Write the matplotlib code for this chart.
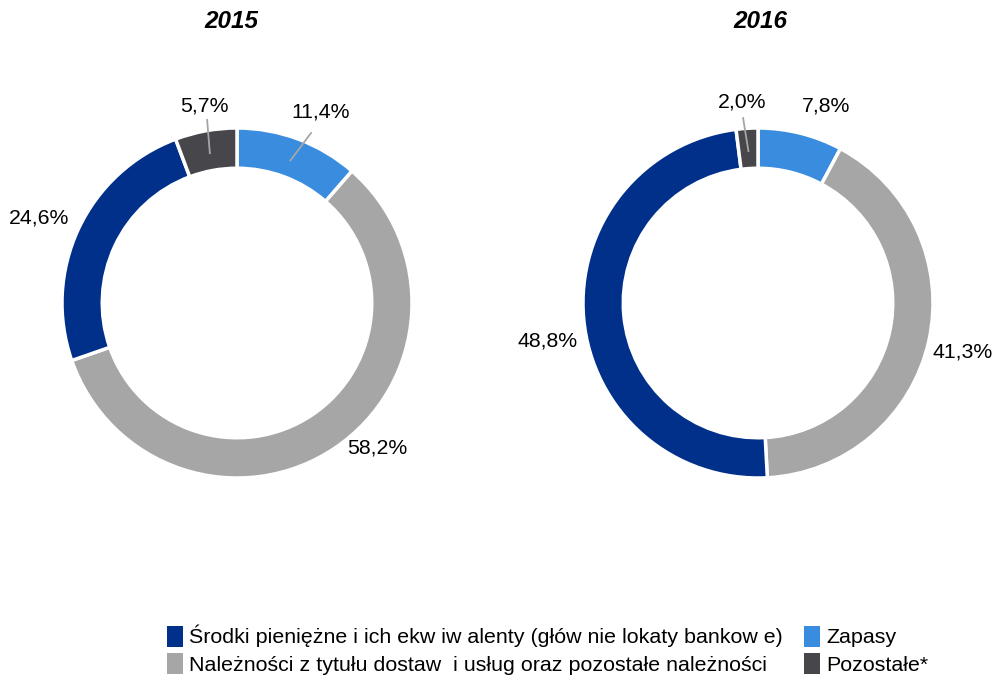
import numpy as np
import matplotlib
matplotlib.use("Agg")
import matplotlib.pyplot as plt
from matplotlib.patches import Patch

plt.rcParams['font.family'] = ['Liberation Sans', 'DejaVu Sans']

# data
years = ["2015", "2016"]
categories = [
    "Zapasy",
    "Należności z tytułu dostaw  i usług oraz pozostałe należności",
    "Środki pieniężne i ich ekw iw alenty (głów nie lokaty bankow e)",
    "Pozostałe*",
]
values_2015 = [11.4, 58.2, 24.6, 5.7]
values_2016 = [7.8, 41.3, 48.8, 2.0]
colors = ["#3A8DDE", "#A6A6A6", "#00308A", "#47474B"]

W, H = 997, 675
fig = plt.figure(figsize=(W / 100, H / 100), dpi=100)

R = 175  # outer radius, px
centers = [(237, 303), (758, 303)]
title_dx = [-6, 2]
# label placement per wedge: (radius factor, angle nudge deg, leader line)
label_opts = {
    "2015": [(1.19, -3, True), (1.15, 10, False), (1.23, 2, False), (1.14, -1, True)],
    "2016": [(1.19, -5, False), (1.20, -1, False), (1.22, 5, False), (1.15, 1, True)],
}


def pct(v):
    return f"{v:.1f}%".replace(".", ",")


for year, vals, (cx, cy), tdx in zip(years, [values_2015, values_2016], centers, title_dx):
    ax = fig.add_axes([(cx - R) / W, (H - cy - R) / H, 2 * R / W, 2 * R / H])
    wedges, _ = ax.pie(vals, colors=colors, startangle=90, counterclock=False,
                       radius=1.0,
                       wedgeprops=dict(width=0.23, edgecolor="white", linewidth=2.5))
    ax.set_xlim(-1, 1)
    ax.set_ylim(-1, 1)
    ax.set_aspect("equal")
    ax.axis("off")

    for w, v, (rf, nudge, leader) in zip(wedges, vals, label_opts[year]):
        mid = np.deg2rad((w.theta1 + w.theta2) / 2)
        ang = mid + np.deg2rad(nudge)
        tx, ty = rf * np.cos(ang), rf * np.sin(ang)
        ax.text(tx, ty, pct(v), ha="center", va="center", fontsize=15.3,
                color="black", clip_on=False)
        if leader:
            r0 = 0.87
            ax.plot([r0 * np.cos(mid), 1.06 * np.cos(ang)],
                    [r0 * np.sin(mid), 1.06 * np.sin(ang)],
                    color="#A6A6A6", lw=1.3, clip_on=False)

    fig.text((cx + tdx) / W, 1 - 22 / H, year, ha="center", va="center",
             fontsize=17.5, fontweight="bold", fontstyle="italic")

handles = [Patch(facecolor=colors[i], edgecolor="none") for i in [2, 1, 0, 3]]
labels = [categories[i] for i in [2, 1, 0, 3]]
fig.legend(handles, labels, ncol=2, loc="upper left",
           bbox_to_anchor=(152 / W, 1 - 610 / H), frameon=False,
           fontsize=15.4, handlelength=0.75, handleheight=1.15, handletextpad=0.3,
           labelspacing=0.25, columnspacing=0.95, borderpad=0.2)

fig.savefig("out.png", dpi=100)
